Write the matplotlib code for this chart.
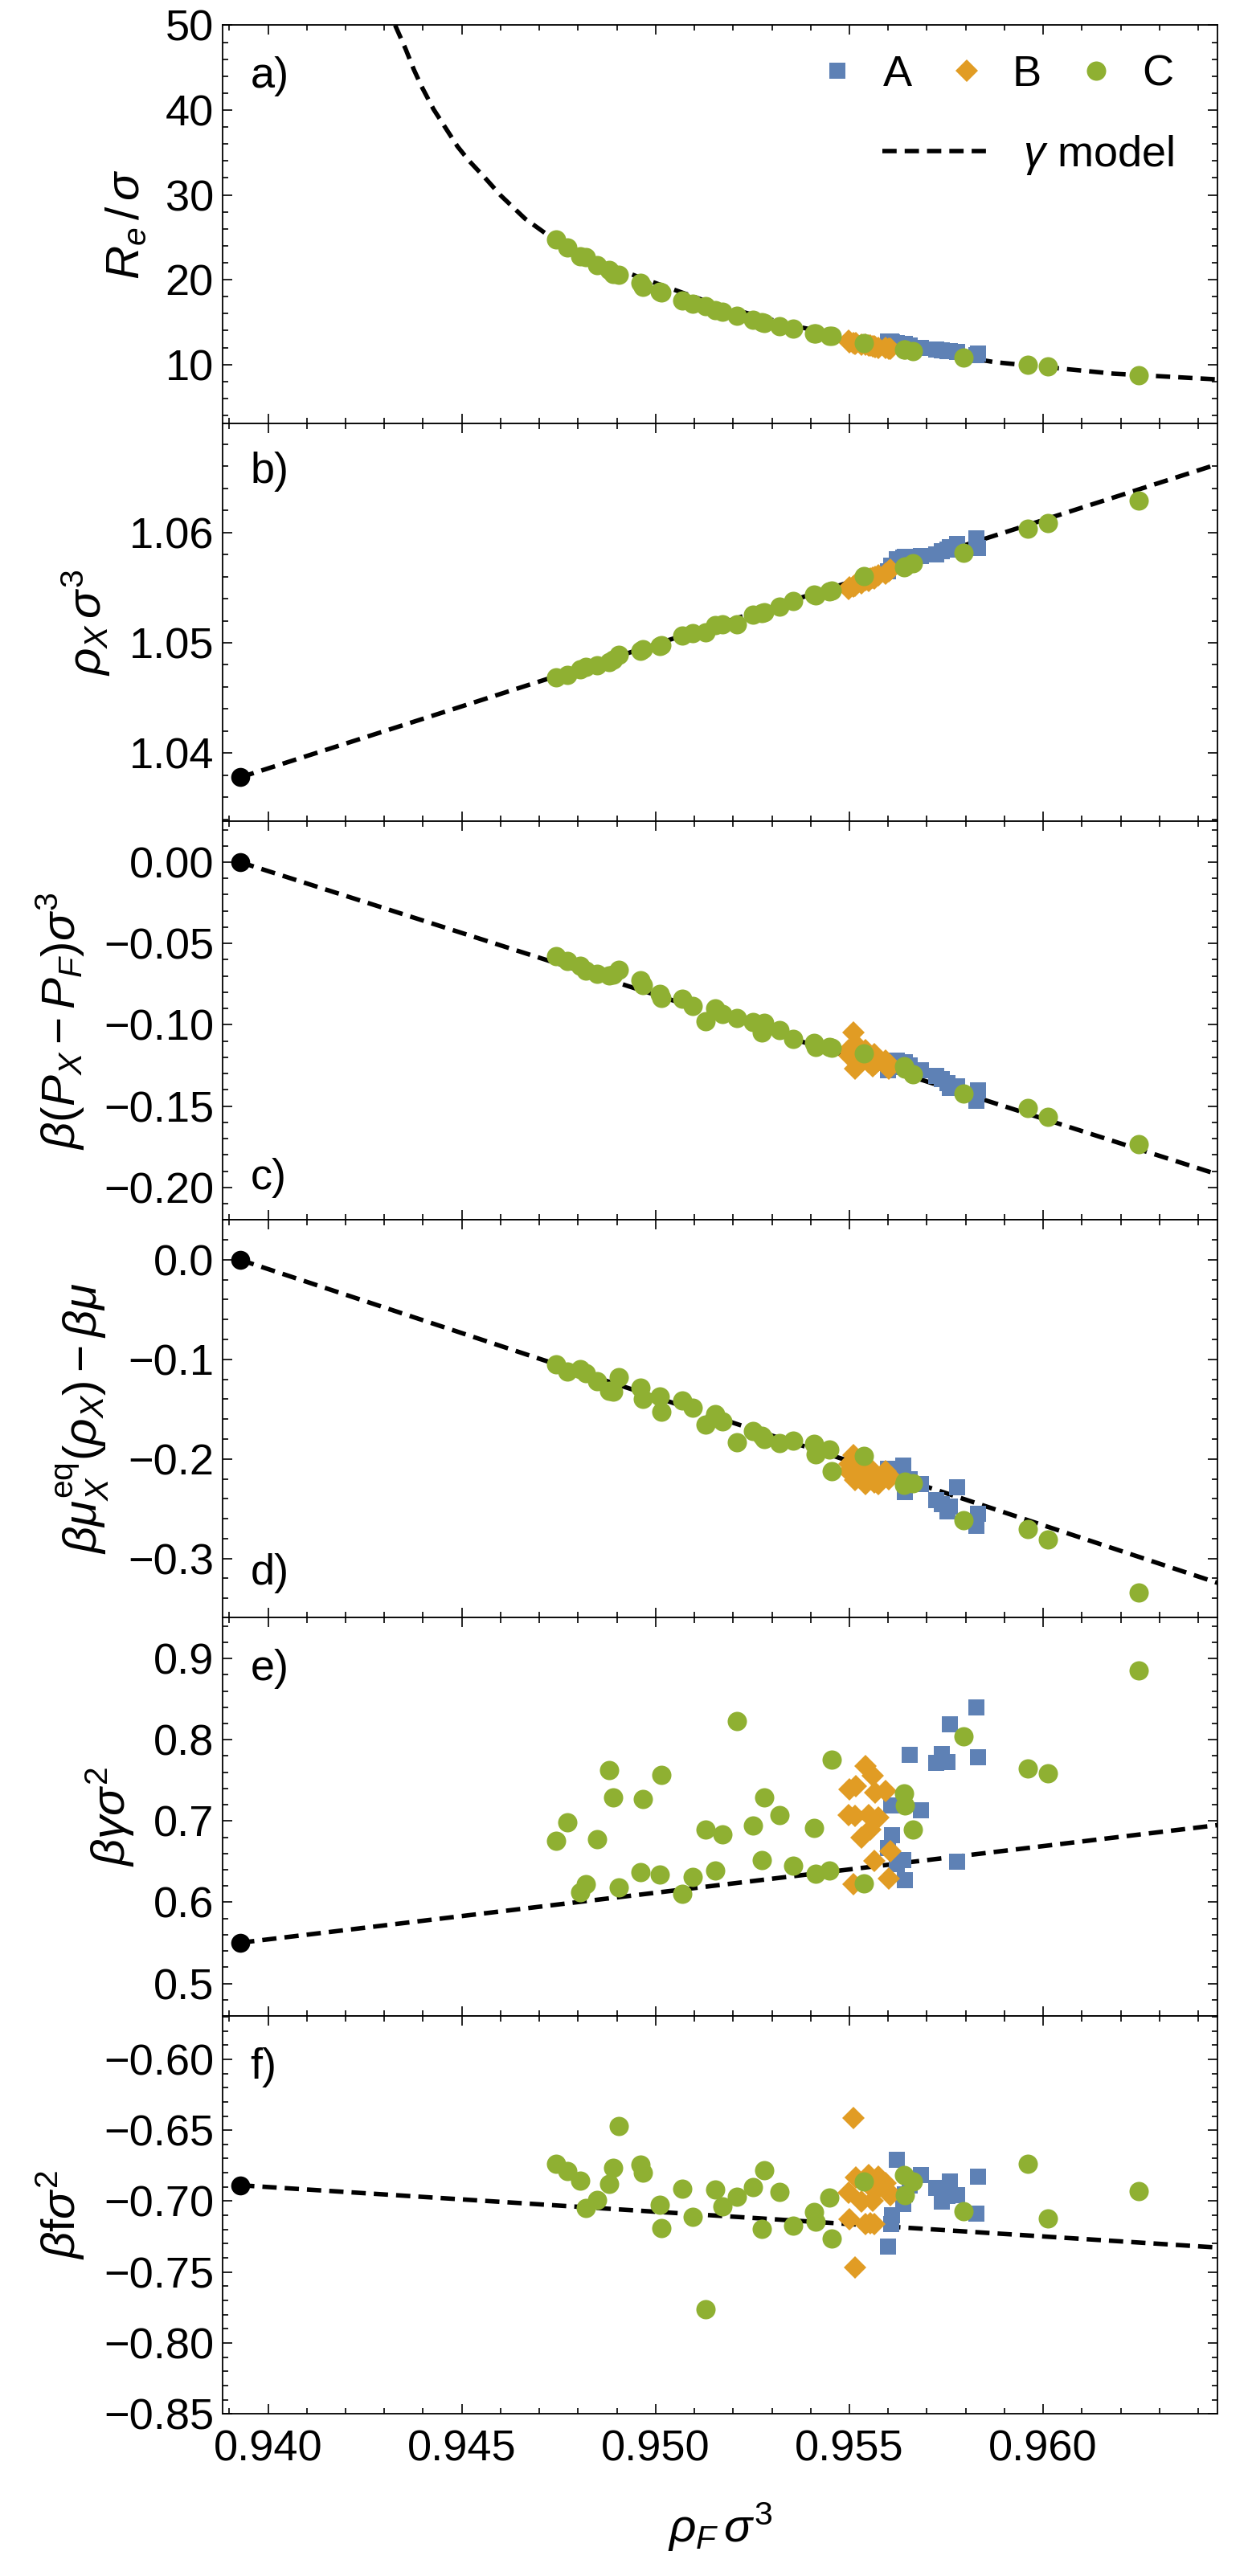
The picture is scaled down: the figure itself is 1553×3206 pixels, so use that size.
import matplotlib
matplotlib.use("Agg")
import matplotlib.pyplot as plt
from matplotlib.ticker import MultipleLocator, FuncFormatter
from matplotlib.lines import Line2D

plt.rcParams['font.family'] = ['Liberation Sans', 'DejaVu Sans']
plt.rcParams['mathtext.fontset'] = 'custom'
plt.rcParams['mathtext.rm'] = 'Liberation Sans'
plt.rcParams['mathtext.it'] = 'Liberation Sans:italic'
plt.rcParams['mathtext.bf'] = 'Liberation Sans:bold'

######################################################################
# Data

# simulation set C (green circles)
rho_C = [0.94744, 0.94772, 0.94805, 0.94821, 0.94850, 0.94880, 0.94891, 0.94906,
         0.94961, 0.94968, 0.95010, 0.95014, 0.95069, 0.95096, 0.95129, 0.95154,
         0.95172, 0.95209, 0.95251, 0.95275, 0.95281, 0.95320, 0.95354, 0.95409,
         0.95412, 0.95448, 0.95455, 0.95538, 0.95641, 0.95644, 0.95663, 0.95795,
         0.95961, 0.96013, 0.96246]
Re_C = [24.73, 23.81, 22.77, 22.67, 21.72, 21.19, 20.71, 20.55, 19.67, 19.19, 18.55,
        18.50, 17.55, 17.17, 16.92, 16.44, 16.22, 15.75, 15.27, 14.95, 14.92, 14.48,
        14.20, 13.69, 13.65, 13.36, 13.34, 12.55, 11.79, 11.75, 11.54, 10.81, 9.93,
        9.77, 8.73]
rhoX_C = [1.04688, 1.04712, 1.04763, 1.04785, 1.04798, 1.04822, 1.04846, 1.04890,
          1.04930, 1.04940, 1.04970, 1.04976, 1.05066, 1.05090, 1.05098, 1.05158,
          1.05166, 1.05166, 1.05254, 1.05270, 1.05278, 1.05327, 1.05378, 1.05439,
          1.05430, 1.05465, 1.05471, 1.05605, 1.05683, 1.05690, 1.05720, 1.05817,
          1.06034, 1.06083, 1.06288]
dP_C = [-0.0578, -0.0606, -0.0636, -0.0669, -0.0685, -0.0697, -0.0694, -0.0664,
        -0.0727, -0.0756, -0.0812, -0.0834, -0.0842, -0.0883, -0.0979, -0.0900,
        -0.0933, -0.0957, -0.0982, -0.1048, -0.0987, -0.1031, -0.1086, -0.1114,
        -0.1135, -0.1134, -0.1142, -0.1176, -0.1254, -0.1270, -0.1303, -0.1424,
        -0.1513, -0.1564, -0.1735]
dmu_C = [-0.1050, -0.1120, -0.1098, -0.1138, -0.1219, -0.1313, -0.1321, -0.1179,
         -0.1281, -0.1399, -0.1372, -0.1528, -0.1415, -0.1488, -0.1655, -0.1547,
         -0.1623, -0.1833, -0.1722, -0.1771, -0.1803, -0.1838, -0.1819, -0.1851,
         -0.1954, -0.1905, -0.2126, -0.1967, -0.2260, -0.2228, -0.2241, -0.2618,
         -0.2707, -0.2806, -0.3345]
gam_C = [0.6757, 0.6984, 0.6123, 0.6222, 0.6773, 0.7631, 0.7291, 0.6179, 0.6371,
         0.7268, 0.6344, 0.7571, 0.6104, 0.6311, 0.6895, 0.6387, 0.6836, 0.8231,
         0.6941, 0.6516, 0.7294, 0.7076, 0.6450, 0.6912, 0.6354, 0.6387, 0.7756,
         0.6232, 0.7340, 0.7192, 0.6898, 0.8043, 0.7650, 0.7591, 0.8857]
f_C = [-0.6737, -0.6788, -0.6854, -0.7046, -0.6992, -0.6878, -0.6765, -0.6470,
       -0.6742, -0.6799, -0.7025, -0.7192, -0.6910, -0.7109, -0.7760, -0.6916,
       -0.7039, -0.6969, -0.6901, -0.7194, -0.6782, -0.6933, -0.7171, -0.7075,
       -0.7143, -0.6975, -0.7265, -0.6863, -0.6814, -0.6958, -0.6859, -0.7069,
       -0.6735, -0.7120, -0.6927]

# simulation set B (orange diamonds)
rho_B = [0.95498, 0.95501, 0.95511, 0.95514, 0.95517, 0.95532, 0.95541, 0.95549,
         0.95555, 0.95561, 0.95565, 0.95566, 0.95574, 0.95594, 0.95601, 0.95605]
Re_B = [12.85, 12.60, 12.55, 12.45, 12.50, 12.35, 12.30, 12.20, 12.25, 12.10, 12.15,
        12.05, 12.00, 11.95, 11.85, 11.90]
rhoX_B = [1.0549, 1.0550, 1.0551, 1.0552, 1.0553, 1.0554, 1.0557, 1.0556, 1.0558,
          1.0559, 1.0558, 1.0560, 1.0561, 1.0563, 1.0565, 1.0566]
dP_B = [-0.1155, -0.1190, -0.1048, -0.1270, -0.1120, -0.1200, -0.1155, -0.1230,
        -0.1204, -0.1254, -0.1180, -0.1240, -0.1220, -0.1221, -0.1270, -0.1250]
dmu_B = [-0.2120, -0.2050, -0.1959, -0.2214, -0.2100, -0.2150, -0.2255, -0.2080,
         -0.2200, -0.2130, -0.2240, -0.2160, -0.2255, -0.2120, -0.2200, -0.2180]
gam_B = [0.7076, 0.7393, 0.6222, 0.7063, 0.7430, 0.6800, 0.7673, 0.7070, 0.6898,
         0.7558, 0.6509, 0.7350, 0.7040, 0.7367, 0.6288, 0.6628]
f_B = [-0.6942, -0.7126, -0.6415, -0.7469, -0.6833, -0.7003, -0.7163, -0.6814,
       -0.7154, -0.7000, -0.7163, -0.6927, -0.6829, -0.6871, -0.6937, -0.6960]

# simulation set A (blue squares)
rho_A = [0.95599, 0.95607, 0.95610, 0.95623, 0.95639, 0.95643, 0.95655, 0.95684,
         0.95723, 0.95739, 0.95753, 0.95760, 0.95777, 0.95828, 0.95832]
Re_A = [12.75, 12.70, 12.65, 12.55, 12.45, 12.40, 12.25, 12.00, 11.80, 11.70, 11.60,
        11.55, 11.45, 11.10, 11.30]
rhoX_A = [1.05650, 1.05700, 1.05690, 1.05760, 1.05770, 1.05780, 1.05780, 1.05790,
          1.05805, 1.05830, 1.05845, 1.05870, 1.05900, 1.05950, 1.05860]
dP_A = [-0.1279, -0.1250, -0.1260, -0.1221, -0.1240, -0.1230, -0.1250, -0.1279,
        -0.1312, -0.1336, -0.1360, -0.1386, -0.1380, -0.1468, -0.1402]
dmu_A = [-0.2100, -0.2120, -0.2150, -0.2174, -0.2066, -0.2336, -0.2200, -0.2255,
         -0.2416, -0.2457, -0.2524, -0.2480, -0.2282, -0.2672, -0.2551]
gam_A = [0.6668, 0.7195, 0.6826, 0.6470, 0.6519, 0.6272, 0.7815, 0.7136, 0.7713,
         0.7822, 0.7723, 0.8195, 0.6499, 0.8402, 0.7789]
f_A = [-0.7318, -0.7163, -0.7097, -0.6710, -0.7022, -0.6950, -0.6890, -0.6814,
       -0.6908, -0.7003, -0.6965, -0.6861, -0.6956, -0.7086, -0.6829]

# gamma model: curve in a), straight lines in b)-f) starting at coexistence
rho_model_a = [0.94328, 0.94355, 0.94376, 0.94396, 0.94427, 0.94489, 0.94519,
               0.94560, 0.94601, 0.94663, 0.94745, 0.94848, 0.94951, 0.95156,
               0.95361, 0.95566, 0.95874, 0.96182, 0.96450]
Re_model_a = [50.0, 47.2, 44.8, 42.8, 40.1, 35.7, 34.0, 32.0, 29.9, 27.2, 24.5,
              22.3, 20.4, 17.05, 14.5, 12.65, 10.28, 8.92, 8.24]
rho_coex = 0.93928
rho_model = [rho_coex, 0.96450]
rhoX_model = [1.0378, 1.0662]
dP_model = [0.0, -0.1920]
dmu_model = [0.0, -0.3245]
gam_model = [0.5501, 0.6949]
f_model = [-0.6888, -0.7327]

######################################################################
# Figure

col_A = '#5E81B5'
col_B = '#E19C24'
col_C = '#8FB032'
FS = 39
FS_LAB = 42
LW = 4.0
DASH = (3.2, 1.8)


def minus_fmt(fmt):
    # real minus sign in tick labels, no "-0.0"
    def _f(v, pos):
        if abs(v) < 1e-12:
            v = 0.0
        return (fmt % v).replace('-', '\u2212')
    return FuncFormatter(_f)


fig, axes = plt.subplots(6, 1, figsize=(15.53, 32.06), dpi=100, sharex=True)
fig.subplots_adjust(left=0.1784, right=0.9755, top=0.9902, bottom=0.0629, hspace=0)

panels = [
    (Re_A, Re_B, Re_C, rho_model_a, Re_model_a, None, (3.06, 50.0), 10, 2, '%d',
     r'$R_e\,/\,\sigma$', 'a)', 0.872),
    (rhoX_A, rhoX_B, rhoX_C, rho_model, rhoX_model, rhoX_model[0], (1.0338, 1.0699), 0.01, 0.002,
     '%.2f', r'$\rho_X\,\sigma^3$', 'b)', 0.878),
    (dP_A, dP_B, dP_C, rho_model, dP_model, dP_model[0], (-0.2198, 0.025), 0.05, 0.01,
     '%.2f', r'$\beta(P_X - P_F)\sigma^3$', 'c)', 0.105),
    (dmu_A, dmu_B, dmu_C, rho_model, dmu_model, dmu_model[0], (-0.3595, 0.0404), 0.1, 0.02,
     '%.1f', r'$\beta\mu_X^{\mathrm{eq}}(\rho_X) - \beta\mu$', 'd)', 0.111),
    (gam_A, gam_B, gam_C, rho_model, gam_model, gam_model[0], (0.4601, 0.9502), 0.1, 0.02,
     '%.1f', r'$\beta\gamma\sigma^2$', 'e)', 0.871),
    (f_A, f_B, f_C, rho_model, f_model, f_model[0], (-0.85, -0.5694), 0.05, 0.01,
     '%.2f', r'$\beta\mathrm{f}\sigma^2$', 'f)', 0.871),
]

for ax, (yA, yB, yC, mx, my, dot, ylim, maj, mnr, fmt, ylabel, tag, tagy) in zip(axes, panels):
    ax.plot(mx, my, color='black', lw=LW, dashes=DASH, zorder=2)
    if dot is not None:
        ax.plot([rho_coex], [dot], 'o', color='black', ms=17, mew=0, zorder=3)
    ax.plot(rho_A, yA, 's', color=col_A, ms=14.4, mew=0, zorder=4)
    ax.plot(rho_B, yB, 'D', color=col_B, ms=14.5, mew=0, zorder=5)
    ax.plot(rho_C, yC, 'o', color=col_C, ms=17.3, mew=0, zorder=6)

    ax.set_ylim(*ylim)
    ax.yaxis.set_major_locator(MultipleLocator(maj))
    ax.yaxis.set_minor_locator(MultipleLocator(mnr))
    ax.yaxis.set_major_formatter(minus_fmt(fmt))
    ax.set_ylabel(ylabel, fontsize=FS_LAB, labelpad=15)
    ax.text(0.028, tagy, tag, transform=ax.transAxes, fontsize=FS, ha='left', va='center')

    ax.tick_params(which='both', direction='in', top=True, right=True, width=1.2,
                   labelsize=FS, colors='black')
    ax.tick_params(which='major', length=8.6)
    ax.tick_params(which='minor', length=4.7)
    ax.tick_params(axis='y', pad=8)
    ax.tick_params(axis='x', pad=14)
    for sp in ax.spines.values():
        sp.set_linewidth(1.3)

axes[-1].set_xlim(0.938829, 0.964496)
axes[-1].xaxis.set_major_locator(MultipleLocator(0.005))
axes[-1].xaxis.set_minor_locator(MultipleLocator(0.001))
axes[-1].xaxis.set_major_formatter(minus_fmt('%.3f'))
axes[-1].set_xlabel(r'$\rho_F\,\sigma^3$', fontsize=FS_LAB, labelpad=28)

# legend in panel a)
ax = axes[0]
h_mark = [Line2D([], [], ls='none', marker='s', color=col_A, ms=14.4, mew=0),
          Line2D([], [], ls='none', marker='D', color=col_B, ms=14.5, mew=0),
          Line2D([], [], ls='none', marker='o', color=col_C, ms=17.3, mew=0)]
leg1 = ax.legend(h_mark, ['A', 'B', 'C'], ncol=3, loc='center right',
                 bbox_to_anchor=(0.956, 0.876), frameon=False, fontsize=FS,
                 handlelength=0.6, handletextpad=0.75, columnspacing=0.96,
                 borderpad=0, borderaxespad=0)
ax.add_artist(leg1)
h_line = [Line2D([], [], color='black', lw=LW, dashes=DASH)]
ax.legend(h_line, [r'$\gamma$ model'], loc='center right',
          bbox_to_anchor=(0.956, 0.673), frameon=False, fontsize=FS,
          handlelength=2.43, handletextpad=0.8, borderpad=0, borderaxespad=0)

fig.savefig('out.png', dpi=100)
